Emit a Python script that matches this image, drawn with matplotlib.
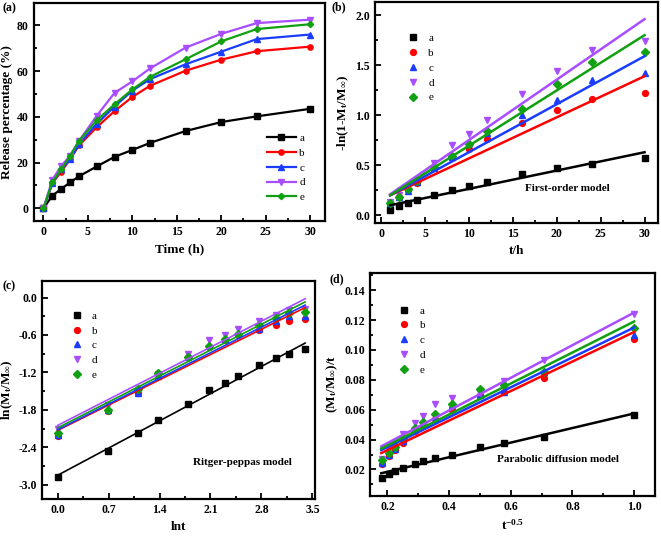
import numpy as np
import matplotlib
matplotlib.use("Agg")
import matplotlib.pyplot as plt
from matplotlib.ticker import MultipleLocator, FuncFormatter

plt.rcParams["font.family"] = ["Liberation Serif", "DejaVu Serif"]
plt.rcParams["font.weight"] = "bold"
plt.rcParams["axes.labelweight"] = "bold"
plt.rcParams["axes.unicode_minus"] = False
plt.rcParams["mathtext.fontset"] = "custom"
plt.rcParams["mathtext.rm"] = "Liberation Serif:bold"
plt.rcParams["mathtext.it"] = "Liberation Serif:bold"
plt.rcParams["mathtext.bf"] = "Liberation Serif:bold"
plt.rcParams["mathtext.default"] = "rm"

# ---- data ----
names = ["a", "b", "c", "d", "e"]
colors = ["black", "#ff0000", "#1a3cff", "#a84dff", "#10a010"]
markers = ["s", "o", "^", "v", "D"]

# (a) cumulative release, %
time_a = [0, 1, 2, 3, 4, 6, 8, 10, 12, 16, 20, 24, 30]
release = [
    [0, 5.5, 8.5, 11.3, 14.0, 18.3, 22.5, 25.5, 28.6, 33.8, 37.7, 40.2, 43.5],
    [0, 11.0, 16.0, 21.5, 27.5, 35.5, 42.5, 48.7, 53.6, 60.2, 65.0, 68.7, 70.7],
    [0, 11.0, 17.0, 21.5, 28.0, 37.0, 44.5, 51.5, 56.5, 63.0, 68.5, 74.0, 76.0],
    [0, 12.5, 18.5, 23.0, 29.5, 40.5, 50.5, 55.5, 61.2, 70.3, 76.3, 81.0, 82.5],
    [0, 11.5, 17.0, 23.0, 29.5, 38.5, 45.5, 52.0, 57.5, 65.2, 73.0, 78.4, 80.5],
]

# (b) first-order model
time_b = [1, 2, 3, 4, 6, 8, 10, 12, 16, 20, 24, 30]
first_order = [
    [0.056, 0.09, 0.126, 0.15, 0.20, 0.25, 0.29, 0.33, 0.41, 0.47, 0.515, 0.57],
    [0.12, 0.18, 0.25, 0.32, 0.47, 0.58, 0.665, 0.765, 0.92, 1.05, 1.16, 1.22],
    [0.12, 0.18, 0.24, 0.33, 0.47, 0.58, 0.72, 0.82, 1.00, 1.15, 1.35, 1.42],
    [0.13, 0.20, 0.27, 0.35, 0.52, 0.70, 0.81, 0.95, 1.21, 1.44, 1.65, 1.74],
    [0.12, 0.18, 0.26, 0.34, 0.48, 0.59, 0.71, 0.84, 1.06, 1.31, 1.53, 1.63],
]
fit_b_x = [1, 30]
fit_b_lo = [0.10, 0.20, 0.20, 0.21, 0.20]
fit_b_hi = [0.63, 1.39, 1.59, 1.96, 1.80]

# (c) Ritger-Peppas model
lnt = [0, 0.693, 1.099, 1.386, 1.792, 2.079, 2.303, 2.485, 2.773, 2.996, 3.178, 3.401]
peppas = [
    [-2.87, -2.46, -2.17, -1.96, -1.70, -1.48, -1.37, -1.25, -1.08, -0.97, -0.90, -0.83],
    [-2.22, -1.82, -1.53, -1.22, -0.96, -0.80, -0.68, -0.60, -0.52, -0.44, -0.38, -0.35],
    [-2.20, -1.80, -1.53, -1.25, -0.95, -0.78, -0.66, -0.57, -0.50, -0.38, -0.30, -0.29],
    [-2.10, -1.73, -1.48, -1.22, -0.90, -0.68, -0.60, -0.50, -0.37, -0.28, -0.20, -0.19],
    [-2.17, -1.80, -1.47, -1.21, -0.96, -0.78, -0.67, -0.58, -0.44, -0.32, -0.24, -0.23],
]
fit_c_x = [0, 3.4]
fit_c_lo = [-2.85, -2.13, -2.12, -2.05, -2.09]
fit_c_hi = [-0.73, -0.16, -0.12, -0.02, -0.07]

# (d) parabolic diffusion model
t_inv_sqrt = [1.0, 0.707, 0.577, 0.5, 0.408, 0.354, 0.316, 0.289, 0.25, 0.224, 0.204, 0.183]
parabolic = [
    [0.0564, 0.0418, 0.0376, 0.035, 0.030, 0.0276, 0.0256, 0.0236, 0.021, 0.0187, 0.0169, 0.0144],
    [0.107, 0.081, 0.072, 0.070, 0.060, 0.054, 0.049, 0.046, 0.0375, 0.033, 0.029, 0.0235],
    [0.110, 0.085, 0.072, 0.070, 0.063, 0.055, 0.051, 0.047, 0.039, 0.034, 0.030, 0.0245],
    [0.124, 0.093, 0.079, 0.071, 0.068, 0.0635, 0.0555, 0.051, 0.044, 0.038, 0.034, 0.027],
    [0.115, 0.085, 0.0765, 0.074, 0.064, 0.057, 0.052, 0.048, 0.041, 0.035, 0.031, 0.0265],
]
fit_d_x = [0.18, 1.0]
fit_d_lo = [0.0175, 0.031, 0.033, 0.0355, 0.034]
fit_d_hi = [0.0575, 0.112, 0.115, 0.125, 0.119]

LABEL_SIZE = 9.5
TICK_SIZE = 8.5


def fmt(decimals):
    def f(v, pos):
        s = f"{v:.{decimals}f}"
        if float(s) == 0:
            s = s.lstrip("-")
        return s
    return FuncFormatter(f)


def style_axes(ax, xmaj, xmin, ymaj, ymin):
    for sp in ax.spines.values():
        sp.set_linewidth(1.6)
    ax.xaxis.set_major_locator(MultipleLocator(xmaj))
    ax.xaxis.set_minor_locator(MultipleLocator(xmin))
    ax.yaxis.set_major_locator(MultipleLocator(ymaj))
    ax.yaxis.set_minor_locator(MultipleLocator(ymin))
    ax.tick_params(which="both", direction="in", top=False, right=False,
                   labelsize=TICK_SIZE, width=1.3)
    ax.tick_params(which="major", length=4)
    ax.tick_params(which="minor", length=2.5)


def scatter_legend(ax, x, y):
    ax.legend(loc="upper left", bbox_to_anchor=(x, y), frameon=False,
              handlelength=1.0, handletextpad=0.9, labelspacing=0.45,
              borderpad=0, borderaxespad=0,
              prop={"family": "Liberation Serif", "weight": "normal", "size": 8})


fig = plt.figure(figsize=(6.61, 5.36), dpi=100)

# ---- (a) ----
ax = fig.add_axes([0.051, 0.588, 0.441, 0.406])
for i in range(5):
    ax.plot(time_a, release[i], color=colors[i], marker=markers[i], lw=1.6,
            ms=3.8 if markers[i] != "D" else 3.2, label=names[i])
ax.set_xlim(-1.1, 31.7)
ax.set_ylim(-5.5, 89.7)
style_axes(ax, 5, 2.5, 20, 10)
ax.set_xlabel("Time (h)", fontsize=LABEL_SIZE)
ax.set_ylabel("Release percentage (%)", fontsize=LABEL_SIZE, labelpad=3)
ax.legend(loc="upper left", bbox_to_anchor=(0.80, 0.402), frameon=False,
          handlelength=2.6, handletextpad=0.3, labelspacing=0.45,
          borderpad=0, borderaxespad=0,
          prop={"family": "Liberation Serif", "weight": "normal", "size": 8})
fig.text(0.004, 0.996, "(a)", fontsize=8.5, fontweight="bold", va="top")

# ---- (b) ----
ax = fig.add_axes([0.567, 0.584, 0.428, 0.412])
for i in range(5):
    ax.plot(time_b, first_order[i], color=colors[i], marker=markers[i], ls="none",
            ms=4.2 if markers[i] != "D" else 3.6, label=names[i])
for i in range(5):
    ax.plot(fit_b_x, [fit_b_lo[i], fit_b_hi[i]], color=colors[i], lw=1.8)
ax.set_xlim(-0.76, 31.5)
ax.set_ylim(-0.077, 2.13)
style_axes(ax, 5, 2.5, 0.5, 0.25)
ax.yaxis.set_major_formatter(fmt(1))
ax.set_xlabel("t/h", fontsize=LABEL_SIZE)
ax.set_ylabel(r"-ln(1-M$_t$/M$_\infty$)", fontsize=LABEL_SIZE, labelpad=3)
ax.text(21.2, 0.27, "First-order model", fontsize=8, fontweight="bold",
        ha="center", va="center")
scatter_legend(ax, 0.115, 0.858)
fig.text(0.502, 0.997, "(b)", fontsize=8.5, fontweight="bold", va="top")

# ---- (c) ----
ax = fig.add_axes([0.064, 0.069, 0.413, 0.407])
for i in range(5):
    ax.plot(lnt, peppas[i], color=colors[i], marker=markers[i], ls="none",
            ms=4.2 if markers[i] != "D" else 3.6, label=names[i])
for i in range(5):
    ax.plot(fit_c_x, [fit_c_lo[i], fit_c_hi[i]], color=colors[i], lw=1.2)
ax.set_xlim(-0.21, 3.54)
ax.set_ylim(-3.23, 0.268)
style_axes(ax, 0.7, 0.35, 0.6, 0.3)
ax.xaxis.set_major_formatter(fmt(1))
ax.yaxis.set_major_formatter(fmt(1))
ax.set_xlabel("lnt", fontsize=LABEL_SIZE)
ax.set_ylabel(r"ln(M$_t$/M$_\infty$)", fontsize=LABEL_SIZE, labelpad=3)
ax.text(2.545, -2.64, "Ritger-peppas model", fontsize=8, fontweight="bold",
        ha="center", va="center")
scatter_legend(ax, 0.105, 0.862)
fig.text(0.004, 0.477, "(c)", fontsize=8.5, fontweight="bold", va="top")

# ---- (d) ----
ax = fig.add_axes([0.560, 0.075, 0.431, 0.416])
for i in range(5):
    ax.plot(t_inv_sqrt, parabolic[i], color=colors[i], marker=markers[i], ls="none",
            ms=4.2 if markers[i] != "D" else 3.6, label=names[i])
for i in range(5):
    ax.plot(fit_d_x, [fit_d_lo[i], fit_d_hi[i]], color=colors[i], lw=1.8)
ax.set_xlim(0.144, 1.068)
ax.set_ylim(0.0024, 0.1516)
style_axes(ax, 0.2, 0.1, 0.02, 0.01)
ax.xaxis.set_major_formatter(fmt(1))
ax.yaxis.set_major_formatter(fmt(2))
ax.set_xlabel(r"t$^{-0.5}$", fontsize=LABEL_SIZE)
ax.set_ylabel(r"(M$_t$/M$_\infty$)/t", fontsize=LABEL_SIZE, labelpad=3)
ax.text(0.754, 0.0266, "Parabolic diffusion model", fontsize=8, fontweight="bold",
        ha="center", va="center")
scatter_legend(ax, 0.10, 0.852)
fig.text(0.498, 0.491, "(d)", fontsize=8.5, fontweight="bold", va="top")

fig.savefig("out.png", dpi=100)
